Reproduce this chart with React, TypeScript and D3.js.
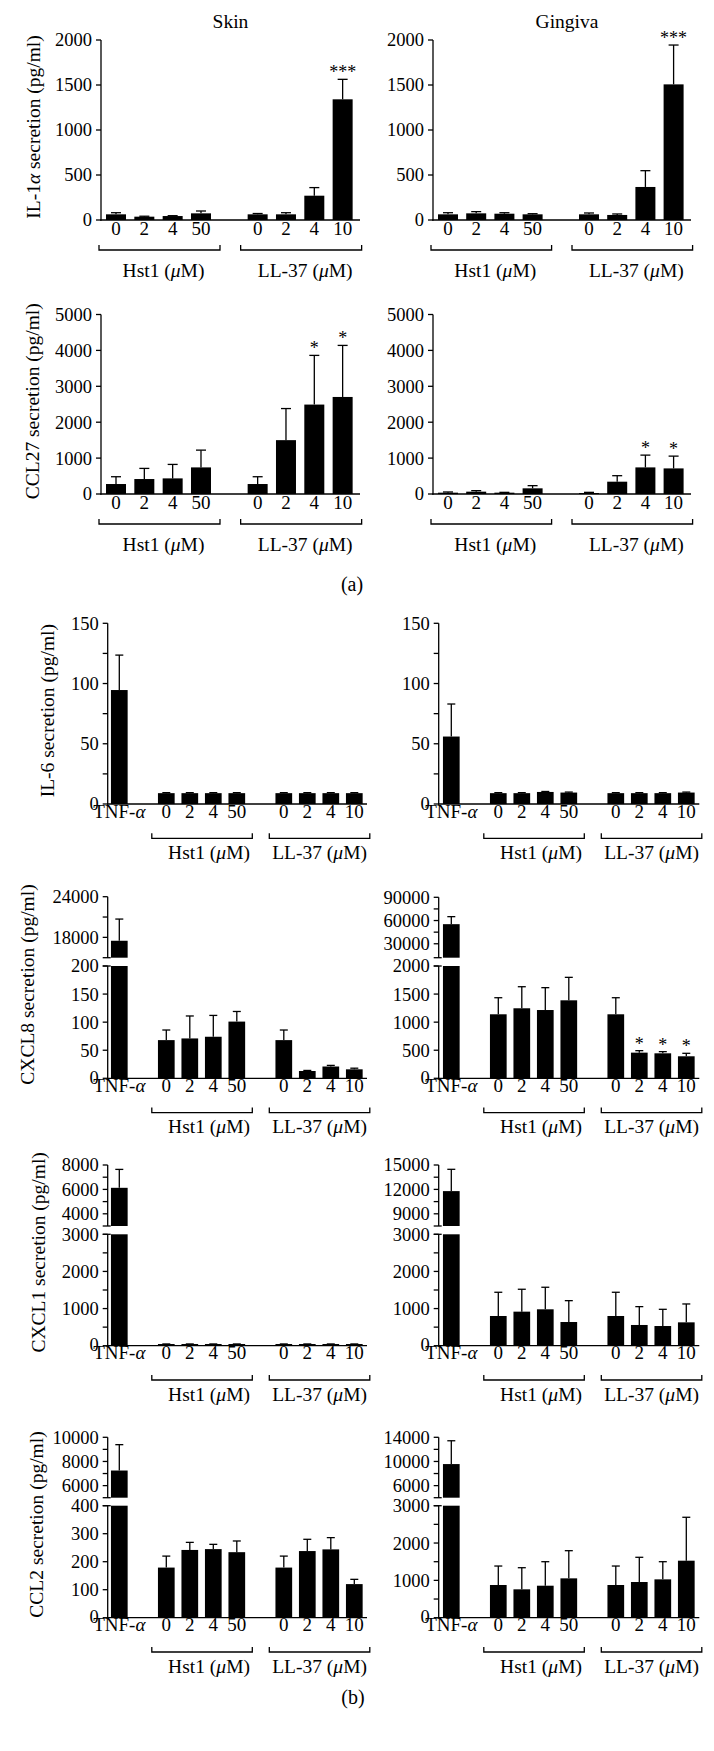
import React from 'react';
import * as d3 from 'd3';

const FONT = '"Liberation Serif", "Times New Roman", serif';

// ---------- categories ----------
const hst1Doses = ['0', '2', '4', '50'];
const ll37Doses = ['0', '2', '4', '10'];
const columnTitles = ['Skin', 'Gingiva'];

// ---------- (a) values: Hst1 0,2,4,50 then LL-37 0,2,4,10 ----------
const il1aSkinMean = [63, 37, 44, 74, 63, 63, 270, 1341];
const il1aSkinSd = [18, 5, 4, 26, 9, 18, 90, 222];
const il1aSkinSig = ['', '', '', '', '', '', '', '***'];
const il1aGingMean = [63, 74, 70, 63, 63, 56, 367, 1507];
const il1aGingSd = [18, 19, 11, 7, 15, 11, 181, 437];
const il1aGingSig = ['', '', '', '', '', '', '', '***'];
const il1aTicks = [0, 500, 1000, 1500, 2000];

const ccl27SkinMean = [278, 417, 435, 741, 278, 1500, 2491, 2703];
const ccl27SkinSd = [203, 296, 389, 481, 203, 880, 1370, 1436];
const ccl27SkinSig = ['', '', '', '', '', '', '*', '*'];
const ccl27GingMean = [37, 65, 37, 158, 28, 343, 741, 713];
const ccl27GingSd = [19, 28, 9, 74, 18, 167, 342, 342];
const ccl27GingSig = ['', '', '', '', '', '', '*', '*'];
const ccl27Ticks = [0, 1000, 2000, 3000, 4000, 5000];

// ---------- (b) values: TNF-α, Hst1 0,2,4,50, LL-37 0,2,4,10 ----------
const il6SkinMean = [94.6, 9, 9, 9, 9, 9, 9, 9, 9];
const il6SkinSd = [29, 0.4, 0.4, 0.4, 0.4, 0.4, 0.4, 0.4, 0.4];
const il6GingMean = [56, 9, 9, 10, 9.5, 9, 9, 9, 9.5];
const il6GingSd = [27, 0.4, 0.4, 0.4, 0.4, 0.4, 0.4, 0.4, 0.4];
const il6Ticks = [0, 50, 100, 150];
const il6Minor = [25, 75, 125];

const cxcl8SkinMean = [17500, 68, 71, 74, 101, 68, 13, 21, 16];
const cxcl8SkinSd = [3200, 18, 40, 38, 18, 18, 1, 2, 2];
const cxcl8SkinLowTicks = [0, 50, 100, 150, 200];
const cxcl8SkinHighTicks = [18000, 24000];
const cxcl8SkinHighMinor = [21000];
const cxcl8GingMean = [55300, 1140, 1247, 1216, 1389, 1140, 457, 445, 392];
const cxcl8GingSd = [9700, 295, 384, 398, 409, 295, 35, 30, 53];
const cxcl8GingSig = ['', '', '', '', '', '', '*', '*', '*'];
const cxcl8GingLowTicks = [0, 500, 1000, 1500, 2000];
const cxcl8GingHighTicks = [30000, 60000, 90000];
const cxcl8GingHighMinor = [45000, 75000];

const cxcl1SkinMean = [6130, 45, 45, 45, 45, 45, 45, 45, 45];
const cxcl1SkinSd = [1510, 2, 2, 2, 2, 2, 2, 2, 2];
const cxcl1SkinLowTicks = [0, 1000, 2000, 3000];
const cxcl1SkinLowMinor = [500, 1500, 2500];
const cxcl1SkinHighTicks = [4000, 6000, 8000];
const cxcl1SkinHighMinor = [5000, 7000];
const cxcl1GingMean = [11790, 800, 917, 980, 638, 800, 558, 530, 629];
const cxcl1GingSd = [2680, 639, 603, 594, 575, 639, 494, 450, 495];
const cxcl1GingLowTicks = [0, 1000, 2000, 3000];
const cxcl1GingLowMinor = [500, 1500, 2500];
const cxcl1GingHighTicks = [9000, 12000, 15000];
const cxcl1GingHighMinor = [10500, 13500];

const ccl2SkinMean = [7250, 179, 242, 245, 234, 179, 238, 244, 120];
const ccl2SkinSd = [2140, 41, 27, 17, 40, 41, 42, 42, 17];
const ccl2SkinLowTicks = [0, 100, 200, 300, 400];
const ccl2SkinHighTicks = [6000, 8000, 10000];
const ccl2SkinHighMinor = [7000, 9000];
const ccl2GingMean = [9567, 876, 760, 857, 1054, 876, 956, 1027, 1527];
const ccl2GingSd = [3860, 508, 579, 643, 741, 508, 662, 473, 1163];
const ccl2GingLowTicks = [0, 1000, 2000, 3000];
const ccl2GingLowMinor = [500, 1500, 2500];
const ccl2GingHighTicks = [6000, 10000, 14000];
const ccl2GingHighMinor = [8000, 12000];

const noSig9 = ['', '', '', '', '', '', '', '', ''];

// ---------- layout ----------
const SLOTS_A = [0, 1, 2, 3, 5, 6, 7, 8];
const SLOTS_B = [0, 2, 3, 4, 5, 7, 8, 9, 10];
const COL_A = [
  { axisX: 101, first: 116, spacing: 28.33, axisEnd: 360 },
  { axisX: 433, first: 448, spacing: 28.2, axisEnd: 691 },
];
const COL_B = [
  { axisX: 107.7, first: 119.3, spacing: 23.5, axisEnd: 367 },
  { axisX: 438.7, first: 451.3, spacing: 23.5, axisEnd: 699.3 },
];

type Seg = { domain: [number, number]; range: [number, number]; major: number[]; minor: number[] };

interface Spec {
  part: 'a' | 'b';
  col: number;
  segs: Seg[];
  mean: number[];
  sd: number[];
  sig: string[];
  title?: React.ReactNode;
  titleX?: number;
}

const Greek = ({ c }: { c: string }) => <tspan fontStyle="italic">{c}</tspan>;

function Panel({ spec }: { spec: Spec }) {
  const { part, col, segs, mean, sd, sig, title, titleX } = spec;
  const lay = part === 'a' ? COL_A[col] : COL_B[col];
  const slots = part === 'a' ? SLOTS_A : SLOTS_B;
  const nSlots = part === 'a' ? 9 : 11;
  const barW = part === 'a' ? 20 : 16.7;
  const capW = part === 'a' ? 10 : 8;
  const x = d3.scaleLinear().domain([0, nSlots - 1]).range([lay.first, lay.first + lay.spacing * (nSlots - 1)]);
  const scales = segs.map((s) => d3.scaleLinear().domain(s.domain).range(s.range));
  const lower = scales[0];
  const broken = segs.length > 1;
  const bottom = segs[0].range[0];
  const top = segs[segs.length - 1].range[1];
  const lowMax = segs[0].domain[1];
  const yOf = (v: number) => (!broken || v <= lowMax ? lower(v) : scales[1](v));
  const sw = 1.3;

  const labelsX = part === 'a' ? [...hst1Doses, ...ll37Doses] : ['TNF', ...hst1Doses, ...ll37Doses];
  const groups = part === 'a'
    ? [
        { a: 0, b: 3, name: 'Hst1', off: 4 },
        { a: 5, b: 8, name: 'LL-37', off: 4 },
      ]
    : [
        { a: 2, b: 5, name: 'Hst1', off: 7 },
        { a: 7, b: 10, name: 'LL-37', off: 0 },
      ];
  const brL = part === 'a' ? 17 : 14.5;
  const brR = part === 'a' ? 19 : 15.5;
  const brY = bottom + (part === 'a' ? 30 : 34.3);
  const grpY = bottom + (part === 'a' ? 57 : 55);
  const tickLabY = bottom + (part === 'a' ? 15 : 13.6);

  return (
    <g>
      {/* bars */}
      {mean.map((v, i) => {
        const cx = x(slots[i]);
        const x0 = cx - barW / 2;
        if (broken && v > lowMax) {
          const up = scales[1];
          return (
            <g key={'b' + i}>
              <rect x={x0} width={barW} y={lower(lowMax)} height={bottom - lower(lowMax)} fill="#000" />
              <rect x={x0} width={barW} y={up(v)} height={segs[1].range[0] - up(v)} fill="#000" />
            </g>
          );
        }
        return <rect key={'b' + i} x={x0} width={barW} y={lower(v)} height={bottom - lower(v)} fill="#000" />;
      })}
      {/* error bars */}
      {mean.map((v, i) => {
        const cx = x(slots[i]);
        const yt = yOf(v + sd[i]);
        return (
          <g key={'e' + i} stroke="#000" strokeWidth={sw}>
            <line x1={cx} x2={cx} y1={yOf(v)} y2={yt} />
            <line x1={cx - capW / 2} x2={cx + capW / 2} y1={yt} y2={yt} />
          </g>
        );
      })}
      {/* significance */}
      {sig.map((s, i) =>
        s ? (
          <text key={'s' + i} x={x(slots[i])} y={yOf(mean[i] + sd[i]) - 1} textAnchor="middle" fontSize={18} fontFamily={FONT}>
            {s}
          </text>
        ) : null
      )}
      {/* y axis */}
      {segs.map((s, k) => {
        const sc = scales[k];
        return (
          <g key={'ax' + k}>
            <line x1={lay.axisX} x2={lay.axisX} y1={s.range[0] + (k === 0 ? sw / 2 : 0)} y2={s.range[1]} stroke="#000" strokeWidth={sw} />
            {[...s.major, ...s.minor].map((t) => (
              <line key={'t' + t} x1={lay.axisX - 5} x2={lay.axisX} y1={sc(t)} y2={sc(t)} stroke="#000" strokeWidth={sw} />
            ))}
            {s.major.map((t) => (
              <text key={'l' + t} x={lay.axisX - 9} y={sc(t)} dy={t === 0 && part === 'b' ? '0.3em' : '0.35em'} textAnchor="end" fontSize={18.5} fontFamily={FONT}>
                {String(t)}
              </text>
            ))}
          </g>
        );
      })}
      {broken && (
        <g stroke="#000" strokeWidth={sw}>
          <line x1={lay.axisX - 5} x2={lay.axisX + 3} y1={segs[0].range[1]} y2={segs[0].range[1]} />
          <line x1={lay.axisX - 5} x2={lay.axisX + 3} y1={segs[1].range[0]} y2={segs[1].range[0]} />
        </g>
      )}
      {/* x axis */}
      <line x1={lay.axisX - sw / 2} x2={lay.axisEnd} y1={bottom} y2={bottom} stroke="#000" strokeWidth={sw} />
      {/* x labels */}
      {labelsX.map((l, i) => (
        <text key={'x' + i} x={x(slots[i])} y={tickLabY} textAnchor="middle" fontSize={19} fontFamily={FONT}>
          {l === 'TNF' ? (
            <>
              TNF-<Greek c="α" />
            </>
          ) : (
            l
          )}
        </text>
      ))}
      {/* brackets */}
      {groups.map((g) => {
        const x1 = x(g.a) - brL;
        const x2 = x(g.b) + brR;
        return (
          <g key={g.name}>
            <path d={`M${x1},${brY - 5}V${brY}H${x2}V${brY - 5}`} fill="none" stroke="#000" strokeWidth={sw} />
            <text x={(x1 + x2) / 2 + g.off} y={grpY} textAnchor="middle" fontSize={19.5} fontFamily={FONT}>
              {g.name} (<Greek c="μ" />M)
            </text>
          </g>
        );
      })}
      {/* y title */}
      {title && (
        <text
          transform={`translate(${titleX},${(top + bottom) / 2 - 3}) rotate(-90)`}
          dy="0.35em"
          textAnchor="middle"
          fontSize={19.5}
          fontFamily={FONT}
        >
          {title}
        </text>
      )}
    </g>
  );
}

const simple = (top: number, bottom: number, max: number, major: number[], minor: number[] = []): Seg[] => [
  { domain: [0, max], range: [bottom, top], major, minor },
];
const brokenSegs = (
  upTop: number, upBot: number, loTop: number, loBot: number,
  loMax: number, upMin: number, upMax: number,
  loMajor: number[], loMinor: number[], upMajor: number[], upMinor: number[]
): Seg[] => [
  { domain: [0, loMax], range: [loBot, loTop], major: loMajor, minor: loMinor },
  { domain: [upMin, upMax], range: [upBot, upTop], major: upMajor, minor: upMinor },
];

const secr = (name: React.ReactNode) => (
  <>
    {name} secretion (pg/ml)
  </>
);

export default function App() {
  const specs: Spec[] = [
    { part: 'a', col: 0, segs: simple(40, 220, 2000, il1aTicks), mean: il1aSkinMean, sd: il1aSkinSd, sig: il1aSkinSig,
      title: secr(<>IL-1<Greek c="α" /></>), titleX: 33 },
    { part: 'a', col: 1, segs: simple(40, 220, 2000, il1aTicks), mean: il1aGingMean, sd: il1aGingSd, sig: il1aGingSig },
    { part: 'a', col: 0, segs: simple(314.5, 494, 5000, ccl27Ticks), mean: ccl27SkinMean, sd: ccl27SkinSd, sig: ccl27SkinSig,
      title: secr('CCL27'), titleX: 32 },
    { part: 'a', col: 1, segs: simple(314.5, 494, 5000, ccl27Ticks), mean: ccl27GingMean, sd: ccl27GingSd, sig: ccl27GingSig },

    { part: 'b', col: 0, segs: simple(623.3, 804, 150, il6Ticks, il6Minor), mean: il6SkinMean, sd: il6SkinSd, sig: noSig9,
      title: secr('IL-6'), titleX: 46.7 },
    { part: 'b', col: 1, segs: simple(623.3, 804, 150, il6Ticks, il6Minor), mean: il6GingMean, sd: il6GingSd, sig: noSig9 },

    { part: 'b', col: 0,
      segs: brokenSegs(896.7, 957.7, 966, 1078.3, 200, 15000, 24000, cxcl8SkinLowTicks, [], cxcl8SkinHighTicks, cxcl8SkinHighMinor),
      mean: cxcl8SkinMean, sd: cxcl8SkinSd, sig: noSig9, title: secr('CXCL8'), titleX: 26.7 },
    { part: 'b', col: 1,
      segs: brokenSegs(897.3, 957.7, 966, 1078.3, 2000, 12000, 90000, cxcl8GingLowTicks, [], cxcl8GingHighTicks, cxcl8GingHighMinor),
      mean: cxcl8GingMean, sd: cxcl8GingSd, sig: cxcl8GingSig },

    { part: 'b', col: 0,
      segs: brokenSegs(1165, 1226, 1234.3, 1345.7, 3000, 3000, 8000, cxcl1SkinLowTicks, cxcl1SkinLowMinor, cxcl1SkinHighTicks, cxcl1SkinHighMinor),
      mean: cxcl1SkinMean, sd: cxcl1SkinSd, sig: noSig9, title: secr('CXCL1'), titleX: 38.3 },
    { part: 'b', col: 1,
      segs: brokenSegs(1165, 1226, 1234.3, 1345.7, 3000, 7500, 15000, cxcl1GingLowTicks, cxcl1GingLowMinor, cxcl1GingHighTicks, cxcl1GingHighMinor),
      mean: cxcl1GingMean, sd: cxcl1GingSd, sig: noSig9 },

    { part: 'b', col: 0,
      segs: brokenSegs(1437.3, 1497.7, 1505.7, 1617.7, 400, 5000, 10000, ccl2SkinLowTicks, [], ccl2SkinHighTicks, ccl2SkinHighMinor),
      mean: ccl2SkinMean, sd: ccl2SkinSd, sig: noSig9, title: secr('CCL2'), titleX: 35.7 },
    { part: 'b', col: 1,
      segs: brokenSegs(1437.3, 1497.7, 1505.7, 1617.7, 3000, 4000, 14000, ccl2GingLowTicks, ccl2GingLowMinor, ccl2GingHighTicks, ccl2GingHighMinor),
      mean: ccl2GingMean, sd: ccl2GingSd, sig: noSig9 },
  ];

  return (
    <svg
      width={714}
      height={1751}
      viewBox="0 0 714 1751"
      style={{ position: 'absolute', left: 0, top: 0, background: '#fff' }}
    >
      <rect x={0} y={0} width={714} height={1751} fill="#fff" />
      <text x={230.5} y={28} textAnchor="middle" fontSize={19.5} fontFamily={FONT}>{columnTitles[0]}</text>
      <text x={567} y={28} textAnchor="middle" fontSize={19.5} fontFamily={FONT}>{columnTitles[1]}</text>
      {specs.map((s, i) => (
        <Panel key={i} spec={s} />
      ))}
      <text x={352} y={591} textAnchor="middle" fontSize={20} fontFamily={FONT}>(a)</text>
      <text x={353} y={1704} textAnchor="middle" fontSize={20} fontFamily={FONT}>(b)</text>
    </svg>
  );
}
